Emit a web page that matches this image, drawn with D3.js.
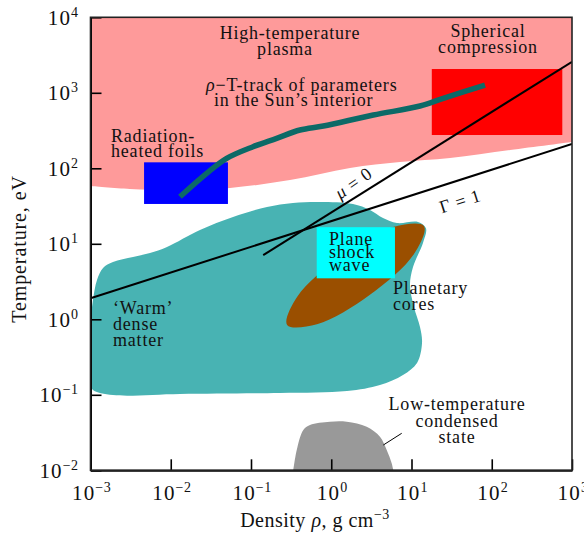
<!DOCTYPE html>
<html>
<head>
<meta charset="utf-8">
<script src="https://cdn.jsdelivr.net/npm/d3@7"></script>
<style>
  body { margin: 0; background: #fff; }
  svg { display: block; font-family: "Liberation Serif", "Times New Roman", serif; }
</style>
</head>
<body>
<div id="chart"></div>
<script>
// shape outlines, each point is [log10 density (g/cm3), log10 temperature (eV)]
const plasmaEdge = [[-3, 1.766], [-2.51, 1.726], [-1.885, 1.713], [-1.262, 1.739], [-0.514, 1.845],
  [0.234, 2.004], [0.857, 2.083], [1.48, 2.136], [2.228, 2.242], [3, 2.348]];

const warmDense = [[-2.994, -0.870], [-2.994, -0.009], [-2.969, 0.256], [-2.919, 0.521], [-2.844, 0.680],
  [-2.720, 0.759], [-2.470, 0.825], [-2.259, 0.878], [-2.047, 0.958], [-1.636, 1.183], [-1.224, 1.355],
  [-0.801, 1.487], [-0.477, 1.540], [-0.140, 1.554], [0.271, 1.527], [0.483, 1.448], [0.645, 1.342],
  [0.819, 1.275], [1.081, 1.289], [1.180, 1.205], [1.143, 1.011], [1.019, 0.693], [0.981, 0.454],
  [1.031, 0.163], [1.106, -0.102], [1.131, -0.314], [1.069, -0.579], [0.894, -0.738], [0.607, -0.870],
  [0.196, -0.950], [-0.639, -0.976], [-1.885, -0.989], [-2.720, -1.003], [-2.969, -0.936]];

const planetCores = [[1.155, 1.236], [1.029, 0.862], [0.478, 0.323], [-0.178, -0.065],
  [-0.550, -0.075], [-0.424, 0.298], [0.127, 0.837], [0.782, 1.225]];

const condensed = [[-0.473, -2.0], [-0.430, -1.731], [-0.348, -1.466], [-0.265, -1.400], [-0.016, -1.356],
  [0.193, -1.356], [0.442, -1.423], [0.607, -1.555], [0.691, -1.731], [0.753, -1.907], [0.773, -2.0]];
const condensedLeader = [[0.649, -1.665], [0.878, -1.510]];

const sunTrack = [[-1.885, 1.624], [-1.552, 1.934], [-1.303, 2.132], [-0.975, 2.286], [-0.680, 2.397],
  [-0.389, 2.507], [-0.099, 2.560], [0.524, 2.706], [1.106, 2.825], [1.396, 2.927], [1.916, 3.103]];

// rectangles: density range, temperature range
const boxNames = ["foils", "compression", "shock"];
const boxRho = [[0.00465, 0.0516], [17.9, 757], [0.659, 6.22]];
const boxT = [[33.7, 120], [276, 2065], [3.49, 16.6]];

// straight lines (density, temperature)
const muZero = [[0.142, 7.1], [1000, 2580]];
const gammaOne = [[0.001, 1.9], [1000, 210]];

const xExps = [-3, -2, -1, 0, 1, 2, 3];
const yExps = [-2, -1, 0, 1, 2, 3, 4];

const width = 584, height = 533;
const plotL = 90.5, plotR = 572, plotT = 17.3, plotB = 470.3;

const boxColor = {foils: "#0000ff", compression: "#ff0000", shock: "#00ffff"};

const svg = d3.select("#chart").append("svg")
  .attr("width", width)
  .attr("height", height);

const x = d3.scaleLog().domain([1e-3, 1e3]).range([plotL, plotR]);
const y = d3.scaleLog().domain([1e-2, 1e4]).range([plotB, plotT]);

const px = d => [x(Math.pow(10, d[0])), y(Math.pow(10, d[1]))];

svg.append("clipPath").attr("id", "plot")
  .append("rect")
  .attr("x", plotL).attr("y", plotT)
  .attr("width", plotR - plotL).attr("height", plotB - plotT);

const g = svg.append("g").attr("clip-path", "url(#plot)");

// high-temperature plasma: everything above the edge curve
const edge = d3.line().curve(d3.curveCatmullRom)(plasmaEdge.map(px));
g.append("path")
  .attr("d", edge + "L" + x(1e3) + "," + y(1e4) + "L" + x(1e-3) + "," + y(1e4) + "Z")
  .attr("fill", "#fe9a9a");

g.append("path")
  .attr("d", d3.line().curve(d3.curveCatmullRomClosed)(warmDense.map(px)))
  .attr("fill", "#48b3b3");

g.append("path")
  .attr("d", d3.line().curve(d3.curveCatmullRomClosed)(planetCores.map(px)))
  .attr("fill", "#9a4f00");

g.selectAll("rect.box")
  .data(boxNames)
  .enter().append("rect")
  .attr("class", "box")
  .attr("x", (d, i) => x(boxRho[i][0]))
  .attr("y", (d, i) => y(boxT[i][1]))
  .attr("width", (d, i) => x(boxRho[i][1]) - x(boxRho[i][0]))
  .attr("height", (d, i) => y(boxT[i][0]) - y(boxT[i][1]))
  .attr("fill", d => boxColor[d]);

g.append("path")
  .attr("d", d3.line().curve(d3.curveCatmullRom)(condensed.map(px)) + "Z")
  .attr("fill", "#999999");

g.append("path")
  .attr("d", d3.line()(condensedLeader.map(px)))
  .attr("stroke", "#000").attr("stroke-width", 1).attr("fill", "none");

const straight = d3.line().x(d => x(d[0])).y(d => y(d[1]));
[muZero, gammaOne].forEach(l => {
  g.append("path")
    .attr("d", straight(l))
    .attr("stroke", "#000").attr("stroke-width", 2).attr("fill", "none");
});

g.append("path")
  .attr("d", d3.line().curve(d3.curveCatmullRom)(sunTrack.map(px)))
  .attr("stroke", "#0c6a67").attr("stroke-width", 5.5).attr("fill", "none");

// axes, ticks point inward
const sup = (sel, base, exp) => {
  sel.append("tspan").attr("letter-spacing", 1.2).text(base);
  sel.append("tspan").attr("font-size", 14).attr("letter-spacing", 0.4).attr("dy", -8).text(exp);
};
const fmtExp = e => (e < 0 ? "\u2212" + (-e) : String(e));

const yAxis = svg.append("g")
  .attr("transform", "translate(" + plotL + ",0)")
  .call(d3.axisLeft(y).tickValues(yExps.map(e => Math.pow(10, e)))
    .tickSizeInner(-11).tickSizeOuter(0).tickFormat(""));
const xAxis = svg.append("g")
  .attr("transform", "translate(0," + plotB + ")")
  .call(d3.axisBottom(x).tickValues(xExps.map(e => Math.pow(10, e)))
    .tickSizeInner(-11).tickSizeOuter(0).tickFormat(""));
[yAxis, xAxis].forEach(a => {
  a.selectAll("path.domain").attr("stroke", "#000").attr("stroke-width", 2);
  a.selectAll(".tick line").attr("stroke", "#000").attr("stroke-width", 1.6);
});

svg.append("rect")
  .attr("x", plotL).attr("y", plotT)
  .attr("width", plotR - plotL).attr("height", plotB - plotT)
  .attr("fill", "none").attr("stroke", "#222").attr("stroke-width", 1.6);

yExps.forEach(e => {
  const t = svg.append("text")
    .attr("x", plotL - 12).attr("y", y(Math.pow(10, e)) + 7.5)
    .attr("text-anchor", "end").attr("font-size", 21).attr("fill", "#111");
  sup(t, "10", fmtExp(e));
});
xExps.forEach(e => {
  const t = svg.append("text")
    .attr("x", x(Math.pow(10, e)) + 1).attr("y", plotB + 30)
    .attr("text-anchor", "middle").attr("font-size", 21).attr("fill", "#111");
  sup(t, "10", fmtExp(e));
});

// axis titles
const xt = svg.append("text")
  .attr("x", 315).attr("y", 527).attr("letter-spacing", 0.5)
  .attr("text-anchor", "middle").attr("font-size", 20).attr("fill", "#111");
xt.append("tspan").text("Density ");
xt.append("tspan").attr("font-style", "italic").text("\u03c1");
xt.append("tspan").text(", g cm");
xt.append("tspan").attr("font-size", 14).attr("dy", -8).text("\u22123");

svg.append("text")
  .attr("transform", "translate(26,249) rotate(-90)")
  .attr("text-anchor", "middle").attr("font-size", 20).attr("fill", "#111")
  .attr("letter-spacing", 0.9)
  .text("Temperature, eV");

// annotation blocks: lines, x of each line, first baseline, line step, anchor
const notes = [
  [["High-temperature", "plasma"], [290, 285], 39, 16, "middle"],
  [["Spherical", "compression"], [488, 488], 37, 16, "middle"],
  [["Radiation-", "heated foils"], [111, 111], 142, 15, "start"],
  [["Plane", "shock", "wave"], [329, 329, 329], 245, 13, "start"],
  [["Planetary", "cores"], [393, 393], 294, 16, "start"],
  [["\u2018Warm\u2019", "dense", "matter"], [113, 113, 113], 314, 16, "start"],
  [["Low-temperature", "condensed", "state"], [457, 457, 457], 410, 16.5, "middle"]
];
const blocks = svg.selectAll("text.note")
  .data(notes)
  .enter().append("text")
  .attr("class", "note")
  .attr("text-anchor", d => d[4])
  .attr("font-size", 18).attr("letter-spacing", 0.8).attr("fill", "#111");
blocks.each(function (d) {
  d[0].forEach((line, i) => {
    d3.select(this).append("tspan")
      .attr("x", d[1][i]).attr("y", d[2] + i * d[3])
      .text(line);
  });
});

const track = svg.append("text")
  .attr("font-size", 18).attr("letter-spacing", 0.8).attr("fill", "#111");
const line1 = track.append("tspan").attr("x", 206).attr("y", 91);
line1.append("tspan").attr("font-style", "italic").text("\u03c1");
line1.append("tspan").text("\u2212T-track of parameters");
track.append("tspan").attr("x", 214).attr("y", 106).text("in the Sun\u2019s interior");

// rotated line labels follow the slope of their lines
const angle = l => Math.atan2(y(l[1][1]) - y(l[0][1]), x(l[1][0]) - x(l[0][0])) * 180 / Math.PI;

const mu = svg.append("text")
  .attr("transform", "translate(357,188) rotate(" + (angle(muZero) - 3) + ")")
  .attr("text-anchor", "middle").attr("font-size", 18).attr("letter-spacing", 0.8).attr("fill", "#111");
mu.append("tspan").attr("font-style", "italic").text("\u03bc");
mu.append("tspan").text(" = 0");

svg.append("text")
  .attr("transform", "translate(462,207) rotate(" + angle(gammaOne) + ")")
  .attr("text-anchor", "middle").attr("font-size", 18).attr("letter-spacing", 0.8).attr("fill", "#111")
  .text("\u0393 = 1");
</script>
</body>
</html>
